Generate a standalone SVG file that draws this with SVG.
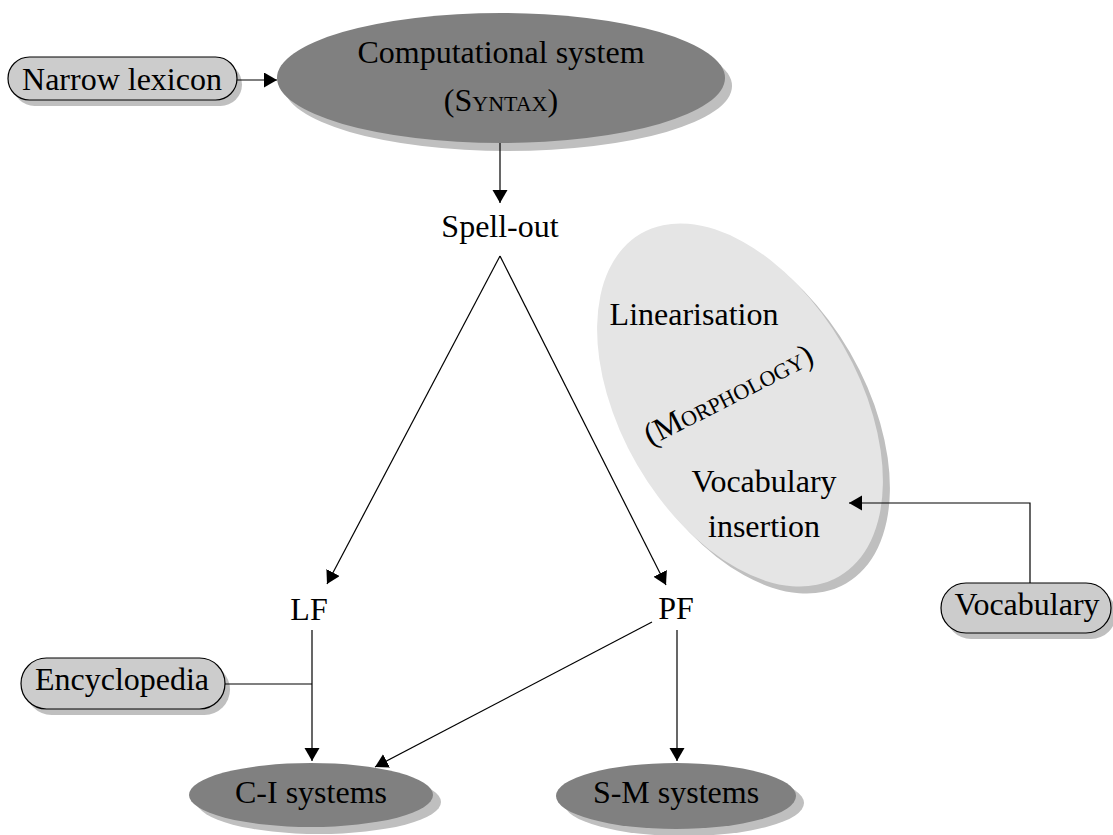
<svg xmlns="http://www.w3.org/2000/svg" width="1113" height="835" viewBox="0 0 1113 835">
  <style>
    text { font-family: "Liberation Serif", "Times New Roman", serif; font-size: 32px; fill: #000; text-anchor: middle; }
    .sc { font-variant: small-caps; }
    .shadow { fill: #bfbfbf; }
    .dark { fill: #808080; }
    .light { fill: #e5e5e5; }
    .pill { fill: #cccccc; stroke: #000; stroke-width: 1.2; }
    .edge { fill: none; stroke: #000; stroke-width: 1.2; }
  </style>
  <defs>
    <marker id="arrow" markerUnits="userSpaceOnUse" markerWidth="14" markerHeight="16" refX="13" refY="7.5" orient="auto">
      <path d="M0,0 L13,7.5 L0,15 z" fill="#000"/>
    </marker>
  </defs>
  <rect width="1113" height="835" fill="#fff"/>

  <!-- Computational system -->
  <g id="syntax">
    <ellipse class="shadow" cx="508" cy="86" rx="224" ry="65"/>
    <ellipse class="dark" cx="501" cy="78" rx="224" ry="65"/>
    <text x="501" y="63">Computational system</text>
    <text x="501" y="111" class="sc">(Syntax)</text>
  </g>

  <!-- Narrow lexicon -->
  <g id="narrow-lexicon">
    <rect class="shadow" x="13" y="63" width="229" height="43" rx="21.5"/>
    <rect class="pill" x="8" y="57" width="229" height="43" rx="21.5"/>
    <text x="122" y="90">Narrow lexicon</text>
  </g>

  <!-- Spell-out -->
  <g id="spell-out">
    <text x="500" y="237">Spell-out</text>
  </g>

  <!-- Morphology -->
  <g id="morphology">
    <ellipse class="shadow" cx="747" cy="412" rx="198" ry="119" transform="rotate(60 747 412)"/>
    <ellipse class="light" cx="740" cy="405" rx="198" ry="119" transform="rotate(60 740 405)"/>
    <text x="694" y="325">Linearisation</text>
    <text class="sc" transform="translate(733 404) rotate(-27)">(Morphology)</text>
    <text x="764" y="492">Vocabulary</text>
    <text x="764" y="537">insertion</text>
  </g>

  <!-- LF / PF -->
  <g id="lf">
    <text x="309" y="620">LF</text>
  </g>
  <g id="pf">
    <text x="676" y="619">PF</text>
  </g>

  <!-- Encyclopedia -->
  <g id="encyclopedia">
    <rect class="shadow" x="26" y="664" width="204" height="51" rx="25.5"/>
    <rect class="pill" x="21" y="658" width="204" height="51" rx="25.5"/>
    <text x="122" y="690">Encyclopedia</text>
  </g>

  <!-- Vocabulary -->
  <g id="vocabulary">
    <rect class="shadow" x="946" y="589" width="170" height="50" rx="25"/>
    <rect class="pill" x="941" y="583" width="170" height="50" rx="25"/>
    <text x="1027" y="615">Vocabulary</text>
  </g>

  <!-- C-I systems -->
  <g id="ci-systems">
    <ellipse class="shadow" cx="319" cy="802" rx="122" ry="32"/>
    <ellipse class="dark" cx="311" cy="795" rx="122" ry="32"/>
    <text x="311" y="803">C-I systems</text>
  </g>

  <!-- S-M systems -->
  <g id="sm-systems">
    <ellipse class="shadow" cx="684" cy="803" rx="120" ry="33"/>
    <ellipse class="dark" cx="676" cy="796" rx="120" ry="33"/>
    <text x="676" y="803">S-M systems</text>
  </g>

  <!-- Connectors -->
  <g id="connectors">
    <line class="edge" x1="237" y1="80" x2="277" y2="80" marker-end="url(#arrow)"/>
    <line class="edge" x1="500" y1="143" x2="500" y2="203" marker-end="url(#arrow)"/>
    <line class="edge" x1="500" y1="256" x2="327" y2="584" marker-end="url(#arrow)"/>
    <line class="edge" x1="500" y1="256" x2="666" y2="585" marker-end="url(#arrow)"/>
    <line class="edge" x1="312" y1="630" x2="312" y2="761" marker-end="url(#arrow)"/>
    <line class="edge" x1="225" y1="684" x2="312" y2="684"/>
    <line class="edge" x1="652" y1="622" x2="375" y2="767" marker-end="url(#arrow)"/>
    <line class="edge" x1="677" y1="630" x2="677" y2="761" marker-end="url(#arrow)"/>
    <polyline class="edge" points="1030,583 1030,503 849,503" marker-end="url(#arrow)"/>
  </g>
</svg>
